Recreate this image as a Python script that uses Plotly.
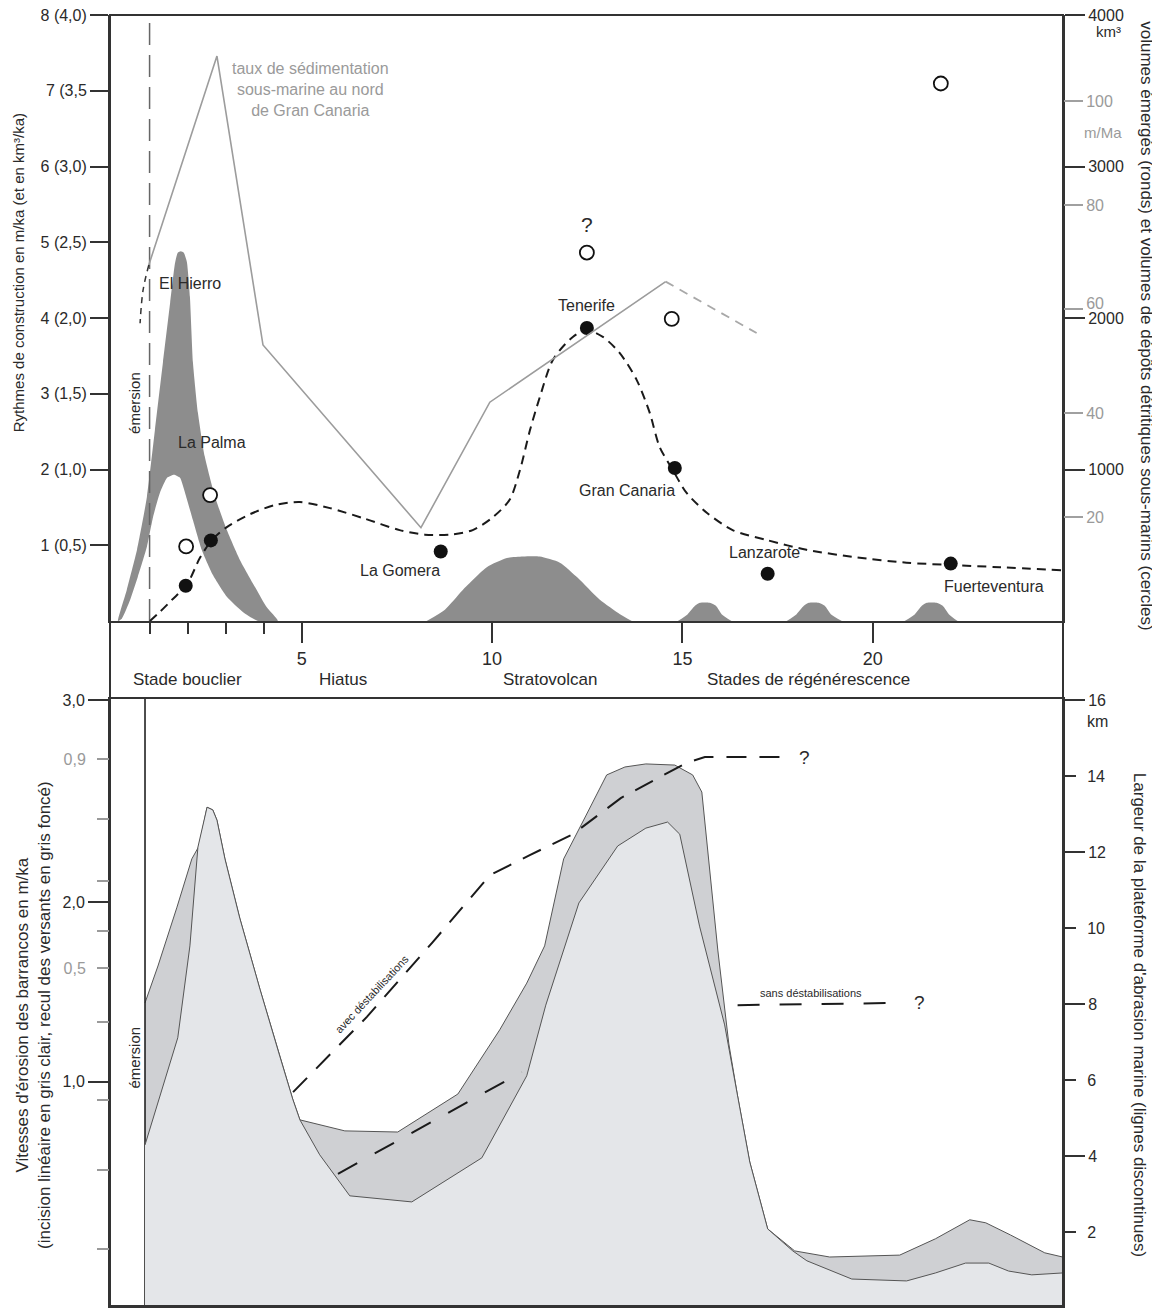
import plotly.graph_objects as go

# ---------------- TOP PANEL DATA (x in Ma) ----------------
# left axis: construction rate (m/ka); right black: km3; right grey: m/Ma
left_tickvals = [1, 2, 3, 4, 5, 6, 7, 8]
left_ticktext = ["1 (0,5)", "2 (1,0)", "3 (1,5)", "4 (2,0)", "5 (2,5)", "6 (3,0)", "7 (3,5", "8 (4,0)"]
km3_tickvals = [1000, 2000, 3000, 4000]
km3_ticktext = ["1000", "2000", "3000", "4000"]
sed_tickvals = [20, 40, 60, 80, 100]
sed_ticktext = ["20", "40", "", "80", "100"]
sed_tickvals_b = [60]
sed_ticktext_b = ["60"]
x_tickvals = [5, 10, 15, 20]
x_ticktext = ["5", "10", "15", "20"]
x_minor = [1, 2, 3, 4]

# shield stage (El Hierro / La Palma) dark band
shield_outer_x = [0.17, 0.40, 0.67, 0.93, 1.14, 1.35, 1.54, 1.67, 1.74, 1.82, 1.90, 1.98, 2.06, 2.14, 2.27, 2.45, 2.72, 3.03, 3.37, 3.77, 4.08, 4.37]
shield_outer_y = [0, 0.41, 0.94, 1.64, 2.52, 3.41, 4.20, 4.73, 4.86, 4.88, 4.86, 4.74, 4.28, 3.41, 2.75, 2.17, 1.64, 1.20, 0.81, 0.45, 0.18, 0]
shield_inner_x = [3.85, 3.45, 3.03, 2.66, 2.37, 2.14, 1.95, 1.80, 1.64, 1.46, 1.27, 1.09, 0.93, 0.69, 0.49, 0.27, 0.17]
shield_inner_y = [0, 0.12, 0.32, 0.61, 0.94, 1.33, 1.66, 1.89, 1.93, 1.89, 1.69, 1.37, 0.98, 0.58, 0.28, 0.03, 0]

strato_x = [8.28, 8.76, 9.23, 9.86, 10.39, 10.81, 11.25, 11.78, 12.25, 12.83, 13.36, 13.67]
strato_y = [0, 0.15, 0.41, 0.71, 0.83, 0.85, 0.85, 0.77, 0.57, 0.28, 0.09, 0]

regen1_x = [14.88, 15.14, 15.33, 15.46, 15.72, 15.88, 16.03, 16.29]
regen2_x = [17.74, 18.00, 18.19, 18.32, 18.58, 18.74, 18.90, 19.19]
regen3_x = [20.84, 21.11, 21.29, 21.42, 21.68, 21.84, 22.00, 22.23]
regen1_y = [0, 0.09, 0.20, 0.24, 0.24, 0.20, 0.09, 0]
regen2_y = [0, 0.09, 0.20, 0.24, 0.24, 0.20, 0.09, 0]
regen3_y = [0, 0.09, 0.20, 0.24, 0.24, 0.20, 0.09, 0]

# submarine sedimentation rate north of Gran Canaria (m/Ma)
sed_x = [0.98, 2.77, 3.98, 8.13, 9.94, 14.56]
sed_y = [68.5, 108.7, 53.1, 17.95, 42.1, 65.3]
sed_dash_x = [14.56, 16.95]
sed_dash_y = [65.3, 55.4]
sed_start_x = [0.98, 0.83, 0.75]
sed_start_y = [68.5, 63.7, 57.3]

# construction-rate trend (dashed, m/ka)
constr_x = [1.01, 1.27, 1.59, 1.98, 2.32, 2.64, 3.03, 3.64, 4.29, 4.95, 5.74, 6.66, 7.57, 8.23, 8.89, 9.49,
            10.02, 10.46, 10.73, 10.99, 11.25, 11.60, 12.12, 12.49, 12.91, 13.35, 13.80, 14.14, 14.40, 14.75,
            15.11, 15.64, 16.32, 17.21, 18.26, 19.58, 20.89, 22.02, 23.34, 24.99]
constr_y = [0, 0.12, 0.28, 0.48, 0.83, 1.07, 1.24, 1.41, 1.53, 1.57, 1.49, 1.35, 1.20, 1.14, 1.14, 1.20,
            1.37, 1.60, 1.99, 2.51, 2.95, 3.45, 3.75, 3.84, 3.75, 3.54, 3.18, 2.75, 2.30, 1.99,
            1.69, 1.43, 1.20, 1.07, 0.94, 0.84, 0.77, 0.74, 0.71, 0.67]

# emerged volumes (filled) and submarine detrital volumes (open), km3
islands = ["El Hierro", "La Palma", "La Gomera", "Tenerife", "Gran Canaria", "Lanzarote", "Fuerteventura"]
emerged_x = [1.95, 2.61, 8.65, 12.49, 14.80, 17.24, 22.05]
emerged_v = [233, 532, 459, 1934, 1010, 312, 379]
submarine_x = [1.96, 2.59, 12.49, 14.72, 21.79]
submarine_v = [492, 831, 2432, 1994, 3548]

stages = ["Stade bouclier", "Hiatus", "Stratovolcan", "Stades de régénérescence"]
stage_x = [1.99, 6.07, 11.54, 18.32]

# ---------------- BOTTOM PANEL DATA (km of abrasion platform) ----------------
km_tickvals_long = [4, 8, 12, 16]
km_ticktext_long = ["4", "8", "12", "16"]
km_tickvals_short = [2, 6, 10, 14]
km_ticktext_short = ["2", "6", "10", "14"]
ero_black_pos = [16.0, 10.68, 5.95]
ero_black_text = ["3,0", "2,0", "1,0"]
ero_grey_pos = [14.45, 12.87, 11.24, 9.92, 8.95, 7.53, 5.47, 3.63, 1.55]
ero_grey_text = ["0,9", "", "", "", "0,5", "", "", "", ""]

# slope retreat (upper boundary, dark grey)
slope_x = [0.88, 1.22, 1.72, 2.11, 2.30, 2.51, 2.66, 2.77, 2.98, 3.37, 3.90, 4.42, 4.76, 4.95, 6.13, 7.52, 9.10,
           10.20, 10.91, 11.38, 11.88, 12.46, 13.01, 13.49, 14.04, 14.80, 15.27, 15.51, 15.93, 16.22, 16.45,
           16.77, 17.24, 17.95, 18.87, 20.71, 21.65, 22.55, 22.97, 23.62, 24.52, 24.99]
slope_y = [8.03, 9.00, 10.55, 11.82, 12.16, 13.18, 13.11, 12.84, 11.82, 10.26, 8.39, 6.63, 5.50, 4.95, 4.66, 4.63, 5.63,
           7.32, 8.55, 9.53, 11.82, 12.95, 14.03, 14.24, 14.32, 14.29, 14.03, 13.58, 9.42, 6.95, 5.58,
           3.84, 2.08, 1.50, 1.34, 1.39, 1.82, 2.32, 2.24, 1.92, 1.45, 1.34]
# linear incision (light grey)
incis_x = [0.88, 1.74, 2.06, 2.27, 2.51, 2.66, 2.77, 2.98, 3.37, 3.90, 4.42, 4.76, 4.95, 5.47, 6.26, 7.89, 9.73,
           10.91, 11.41, 12.28, 13.30, 14.04, 14.61, 14.93, 15.45, 16.11, 16.45, 16.77, 17.24, 17.90, 18.27,
           19.45, 20.89, 21.65, 22.44, 23.05, 23.57, 24.18, 24.99]
incis_y = [4.29, 7.11, 9.53, 12.13, 13.18, 13.11, 12.84, 11.82, 10.26, 8.39, 6.63, 5.50, 4.95, 4.03, 2.95, 2.79, 3.95,
           6.11, 7.97, 10.66, 12.16, 12.63, 12.79, 12.47, 10.05, 7.45, 5.58, 3.84, 2.08, 1.50, 1.24,
           0.76, 0.71, 0.92, 1.18, 1.18, 0.97, 0.87, 0.92]
# platform width with / without destabilisations
avec_x = [4.77, 6.71, 8.44, 9.94, 10.99, 12.12, 13.38, 14.33, 15.09, 15.59, 17.71]
avec_y = [5.68, 7.66, 9.63, 11.39, 11.92, 12.47, 13.42, 13.92, 14.34, 14.50, 14.50]
sans_x = [5.95, 10.78, None, 16.45, 20.76]
sans_y = [3.53, 6.21, None, 7.97, 8.03]

FONT = "Liberation Sans, Arial, sans-serif"
INK = "#2a2a2a"
GREY_TXT = "#9a9a9a"
DARK_FILL = "#8d8d8d"

TOP_DOM = [0.5306, 1.0]
BOT_DOM = [0.0, 0.4702]
XR = [-0.04, 25.0]
BR = [0.05, 16.03]
SR = [0, 116.6]

fig = go.Figure()

# ---- top panel fills ----
fig.add_trace(go.Scatter(x=shield_outer_x + shield_inner_x, y=shield_outer_y + shield_inner_y,
                         fill="toself", fillcolor=DARK_FILL, mode="lines", line=dict(width=0, shape="spline", smoothing=0.5),
                         xaxis="x", yaxis="y", hoverinfo="skip"))
for xs, ys in [(strato_x, strato_y), (regen1_x, regen1_y), (regen2_x, regen2_y), (regen3_x, regen3_y)]:
    fig.add_trace(go.Scatter(x=xs, y=ys, fill="toself", fillcolor=DARK_FILL, mode="lines",
                             line=dict(width=0, shape="spline", smoothing=0.6), xaxis="x", yaxis="y", hoverinfo="skip"))

# emersion dashed line (top)
fig.add_trace(go.Scatter(x=[1, 1], y=[0, 8], mode="lines", line=dict(color="#666", width=1.5, dash="22px,10px"),
                         xaxis="x", yaxis="y", hoverinfo="skip"))

# sedimentation rate (grey)
fig.add_trace(go.Scatter(x=sed_x, y=sed_y, mode="lines", line=dict(color="#9c9c9c", width=1.6),
                         xaxis="x", yaxis="y6", hoverinfo="skip"))
fig.add_trace(go.Scatter(x=sed_dash_x, y=sed_dash_y, mode="lines", line=dict(color="#a8a8a8", width=1.8, dash="9px,7px"),
                         xaxis="x", yaxis="y8", hoverinfo="skip"))
fig.add_trace(go.Scatter(x=sed_start_x, y=sed_start_y, mode="lines",
                         line=dict(color="#333", width=1.5, dash="6px,5px", shape="spline"),
                         xaxis="x", yaxis="y6", hoverinfo="skip"))

# construction trend
fig.add_trace(go.Scatter(x=constr_x, y=constr_y, mode="lines",
                         line=dict(color="#1a1a1a", width=2, dash="9px,6px", shape="spline", smoothing=0.8),
                         xaxis="x", yaxis="y", hoverinfo="skip"))

# volumes
fig.add_trace(go.Scatter(x=submarine_x, y=submarine_v, mode="markers",
                         marker=dict(symbol="circle", size=14, color="white", line=dict(color="#111", width=1.8)),
                         xaxis="x", yaxis="y2", hoverinfo="skip"))
fig.add_trace(go.Scatter(x=emerged_x, y=emerged_v, mode="markers", text=islands,
                         marker=dict(symbol="circle", size=14, color="#111"),
                         xaxis="x", yaxis="y2", hoverinfo="text"))

# ---- bottom panel ----
fig.add_trace(go.Scatter(x=slope_x, y=slope_y, fill="tozeroy", fillcolor="#cfd0d3", mode="lines",
                         line=dict(color="#555", width=1), xaxis="x2", yaxis="y3", hoverinfo="skip"))
fig.add_trace(go.Scatter(x=incis_x, y=incis_y, fill="tozeroy", fillcolor="#e4e6e9", mode="lines",
                         line=dict(color="#555", width=1), xaxis="x2", yaxis="y5", hoverinfo="skip"))
fig.add_trace(go.Scatter(x=avec_x, y=avec_y, mode="lines", line=dict(color="#1a1a1a", width=2, dash="20px,13px"),
                         xaxis="x2", yaxis="y5", hoverinfo="skip"))
fig.add_trace(go.Scatter(x=sans_x, y=sans_y, mode="lines", line=dict(color="#1a1a1a", width=2, dash="22px,20px"),
                         connectgaps=False, xaxis="x2", yaxis="y7", hoverinfo="skip"))
fig.add_trace(go.Scatter(x=[0.88, 0.88], y=BR, mode="lines", line=dict(color="#222", width=1.6),
                         xaxis="x2", yaxis="y4", hoverinfo="skip"))

axis_common = dict(showgrid=False, zeroline=False, fixedrange=True, automargin=False, ticklabeloverflow="allow")

# page body has an 8px margin: figure is sized / offset so the plot frame lands at 110..1063 x 15..1306
fig.update_layout(
    width=1152, height=1300,
    margin=dict(l=102, r=97, t=7, b=2, autoexpand=False),
    paper_bgcolor="white", plot_bgcolor="white",
    showlegend=False,
    font=dict(family=FONT, color=INK, size=16),
    xaxis=dict(domain=[0, 1], range=XR, anchor="y", showline=True, linecolor="#333", linewidth=2,
               ticks="outside", ticklen=20, tickwidth=1.5, tickcolor="#333",
               tickmode="array", tickvals=x_tickvals, ticktext=x_ticktext, tickfont=dict(size=18, color=INK),
               minor=dict(tickmode="array", tickvals=x_minor, ticks="outside", ticklen=11, tickwidth=1.5, tickcolor="#333"),
               **axis_common),
    yaxis=dict(domain=TOP_DOM, range=[0, 8], anchor="x", showline=True, linecolor="#333", linewidth=2,
               ticks="outside", ticklen=18, tickwidth=1.5, tickcolor="#333",
               tickmode="array", tickvals=left_tickvals, ticktext=left_ticktext, tickfont=dict(size=16, color=INK),
               **axis_common),
    yaxis2=dict(overlaying="y", side="right", anchor="x", range=[0, 4000], showline=True, linecolor="#333", linewidth=2,
                ticks="outside", ticklen=20, tickwidth=1.5, tickcolor="#333",
                tickmode="array", tickvals=km3_tickvals, ticktext=km3_ticktext, tickfont=dict(size=16, color=INK),
                **axis_common),
    yaxis6=dict(overlaying="y", side="right", anchor="x", range=SR, showline=False,
                ticks="outside", ticklen=19, tickwidth=1.5, tickcolor="#a0a0a0",
                tickmode="array", tickvals=sed_tickvals, ticktext=sed_ticktext,
                tickfont=dict(size=16, color=GREY_TXT), **axis_common),
    yaxis8=dict(overlaying="y", side="right", anchor="x", range=SR, showline=False,
                ticks="outside", ticklen=19, tickwidth=1, tickcolor="rgba(0,0,0,0)", ticklabelshift=-6,
                tickmode="array", tickvals=sed_tickvals_b, ticktext=sed_ticktext_b,
                tickfont=dict(size=16, color=GREY_TXT), **axis_common),
    xaxis2=dict(domain=[0, 1], range=XR, anchor="y3", showline=True, mirror=True, linecolor="#333", linewidth=2,
                showticklabels=False, ticks="", **axis_common),
    yaxis3=dict(domain=BOT_DOM, range=BR, anchor="x2", showline=True, linecolor="#333", linewidth=2,
                ticks="outside", ticklen=20, tickwidth=1.8, tickcolor="#333",
                tickmode="array", tickvals=ero_black_pos, ticktext=ero_black_text, tickfont=dict(size=16, color=INK),
                **axis_common),
    yaxis4=dict(overlaying="y3", side="left", anchor="x2", range=BR, showline=False,
                ticks="outside", ticklen=12, tickwidth=1.5, tickcolor="#9a9a9a", ticklabelstandoff=8,
                tickmode="array", tickvals=ero_grey_pos, ticktext=ero_grey_text,
                tickfont=dict(size=16, color=GREY_TXT), **axis_common),
    yaxis5=dict(overlaying="y3", side="right", anchor="x2", range=BR, showline=True, linecolor="#333", linewidth=2,
                ticks="outside", ticklen=20, tickwidth=1.8, tickcolor="#333",
                tickmode="array", tickvals=km_tickvals_long, ticktext=km_ticktext_long, tickfont=dict(size=16, color=INK),
                **axis_common),
    yaxis7=dict(overlaying="y3", side="right", anchor="x2", range=BR, showline=False,
                ticks="outside", ticklen=12, tickwidth=1.8, tickcolor="#333", ticklabelstandoff=8,
                tickmode="array", tickvals=km_tickvals_short, ticktext=km_ticktext_short, tickfont=dict(size=16, color=INK),
                **axis_common),
)

# outer frame (includes the middle stage band)
fig.add_shape(type="rect", xref="paper", yref="paper", x0=0, x1=1, y0=0, y1=1,
              line=dict(color="#333", width=2), layer="above")

ann = []
def A(text, x, y, xref="x", yref="y", size=16, color=INK, angle=0, xanchor="center", yanchor="middle", align="center"):
    ann.append(dict(text=text, x=x, y=y, xref=xref, yref=yref, showarrow=False, textangle=angle,
                    font=dict(size=size, color=color, family=FONT), xanchor=xanchor, yanchor=yanchor, align=align))

# top panel labels
A("El Hierro", 1.19, 4.46, xanchor="left")
A("La Palma", 2.64, 2.36)
A("La Gomera", 7.58, 0.67)
A("Tenerife", 12.47, 4.16)
A("Gran Canaria", 13.54, 1.72)
A("Lanzarote", 17.16, 0.90)
A("Fuerteventura", 23.2, 0.46)
A("?", 12.49, 5.23, size=21)
A("émersion", 0.62, 2.88, angle=-90, size=15)
A("taux de sédimentation<br>sous-marine au nord<br>de Gran Canaria", 5.24, 7.01, size=16, color=GREY_TXT)
for s, sx in zip(stages, stage_x):
    A(s, sx, 0.4849, yref="paper", size=17)

# axis titles and units
A("Rythmes de construction en m/ka (et en km³/ka)", -0.0965, 0.80, xref="paper", yref="paper", angle=-90, size=15)
A("volumes émergés (ronds) et volumes de dépôts détritiques sous-marins (cercles)", 1.088, 0.759,
  xref="paper", yref="paper", angle=90, size=17)
A("km³", 1.048, 0.9876, xref="paper", yref="paper", size=15)
A("m/Ma", 1.042, 0.9086, xref="paper", yref="paper", size=15, color=GREY_TXT)
A("km", 1.036, 0.4524, xref="paper", yref="paper", size=16)
A("Vitesses d'érosion des barrancos en m/ka<br>(incision linéaire en gris clair, recul des versants en gris foncé)",
  -0.0808, 0.2254, xref="paper", yref="paper", angle=-90, size=17)
A("Largeur de la plateforme d'abrasion marine (lignes discontinues)", 1.081, 0.2254,
  xref="paper", yref="paper", angle=90, size=17)

# bottom panel labels
A("émersion", 0.6, 6.6, xref="x2", yref="y3", angle=-90, size=15)
A("avec déstabilisations", 6.84, 8.26, xref="x2", yref="y3", angle=-47, size=11)
A("sans déstabilisations", 18.37, 8.29, xref="x2", yref="y3", size=11)
A("?", 18.21, 14.5, xref="x2", yref="y3", size=19)
A("?", 21.23, 8.03, xref="x2", yref="y3", size=19)

fig.update_layout(annotations=ann)
fig.write_html("out.html")
